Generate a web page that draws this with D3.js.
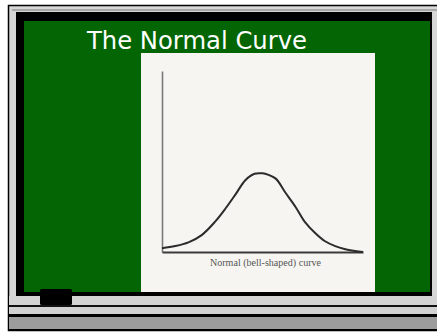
<!DOCTYPE html>
<html>
<head>
<meta charset="utf-8">
<script src="https://cdn.jsdelivr.net/npm/d3@7"></script>
<style>
  html, body { margin: 0; padding: 0; background: #ffffff; }
  svg { display: block; }
</style>
</head>
<body>
<svg id="board" width="437" height="333"></svg>
<script>
// Bell curve sampled along the standard-score axis (z) with its relative height.
const zValues = [-3.8, -3.3, -2.8, -2.3, -1.8, -1.4, -1.0, -0.65, -0.3, 0, 0.1, 0.5, 0.85, 1.25, 1.6, 2.0, 2.35, 2.75, 3.1, 3.5, 3.8];
const heights = [0.019, 0.030, 0.049, 0.086, 0.153, 0.221, 0.297, 0.365, 0.398, 0.400, 0.398, 0.373, 0.305, 0.229, 0.153, 0.095, 0.056, 0.030, 0.015, 0.005, 0.0];
const titleText = "The Normal Curve";
const captionText = "Normal (bell-shaped) curve";

const svg = d3.select("#board");

// ---- chalkboard frame ----
// outer light frame
svg.append("rect").attr("x", 8.5).attr("y", 5.5).attr("width", 440).attr("height", 325)
  .attr("fill", "#d6d6d6").attr("stroke", "#000").attr("stroke-width", 1.5);
svg.append("rect").attr("x", 12).attr("y", 9).attr("width", 430).attr("height", 2)
  .attr("fill", "#a8a8a8");
// black inner border
svg.append("rect").attr("x", 16).attr("y", 12).attr("width", 416).attr("height", 284)
  .attr("fill", "#000");
// green board
svg.append("rect").attr("x", 24).attr("y", 21).attr("width", 406).attr("height", 271)
  .attr("fill", "#036503");
// chalk ledge
svg.append("rect").attr("x", 9).attr("y", 296).attr("width", 428).attr("height", 9).attr("fill", "#d4d4d4");
svg.append("rect").attr("x", 9).attr("y", 305).attr("width", 428).attr("height", 2).attr("fill", "#111");
svg.append("rect").attr("x", 9).attr("y", 307).attr("width", 428).attr("height", 7).attr("fill", "#d2d2d2");
svg.append("rect").attr("x", 9).attr("y", 314).attr("width", 428).attr("height", 3).attr("fill", "#000");
svg.append("rect").attr("x", 9).attr("y", 317).attr("width", 428).attr("height", 12).attr("fill", "#9c9c9c");
svg.append("rect").attr("x", 9).attr("y", 329).attr("width", 428).attr("height", 2).attr("fill", "#000");
// eraser
svg.append("rect").attr("x", 40).attr("y", 289).attr("width", 32).attr("height", 16)
  .attr("rx", 1.5).attr("fill", "#000");

// ---- title ----
svg.append("text")
  .attr("x", 87).attr("y", 49)
  .attr("fill", "#ffffff")
  .attr("font-family", "'DejaVu Sans', sans-serif")
  .attr("font-size", 25)
  .attr("textLength", 220)
  .attr("lengthAdjust", "spacingAndGlyphs")
  .text(titleText);

// ---- printed figure ----
svg.append("rect").attr("x", 141).attr("y", 53).attr("width", 234).attr("height", 239)
  .attr("fill", "#f7f5f1");

const x = d3.scaleLinear().domain([-3.8, 3.8]).range([162, 363]);
const y = d3.scaleLinear().domain([0, 0.92]).range([252, 71]);

const yAxis = svg.append("g").attr("transform", `translate(${x(-3.8)},0)`)
  .call(d3.axisLeft(y).ticks(0).tickSize(0).tickSizeOuter(0));
yAxis.select(".domain").attr("stroke", "#7a7a7a").attr("stroke-width", 1.6);

const xAxis = svg.append("g").attr("transform", `translate(0,${y(0)})`)
  .call(d3.axisBottom(x).ticks(0).tickSize(0).tickSizeOuter(0));
xAxis.select(".domain").attr("stroke", "#3a3a3a").attr("stroke-width", 2);

const pts = zValues.map((z, i) => [z, heights[i]]);
const line = d3.line()
  .x(d => x(d[0]))
  .y(d => y(d[1]))
  .curve(d3.curveCatmullRom.alpha(0.5));

svg.append("path")
  .datum(pts)
  .attr("d", line)
  .attr("fill", "none")
  .attr("stroke", "#2b2b2b")
  .attr("stroke-width", 2);

svg.append("text")
  .attr("x", 210).attr("y", 266)
  .attr("fill", "#555")
  .attr("font-family", "'Liberation Serif', serif")
  .attr("font-size", 11)
  .attr("textLength", 111)
  .attr("lengthAdjust", "spacingAndGlyphs")
  .text(captionText);
</script>
</body>
</html>
